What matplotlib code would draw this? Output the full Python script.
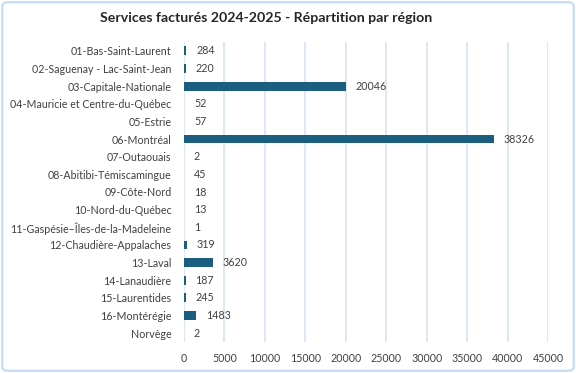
import matplotlib
matplotlib.use("Agg")
import matplotlib.pyplot as plt
from matplotlib.patches import FancyBboxPatch

regions = ["01-Bas-Saint-Laurent", "02-Saguenay - Lac-Saint-Jean", "03-Capitale-Nationale",
           "04-Mauricie et Centre-du-Québec", "05-Estrie", "06-Montréal", "07-Outaouais",
           "08-Abitibi-Témiscamingue", "09-Côte-Nord", "10-Nord-du-Québec",
           "11-Gaspésie–Îles-de-la-Madeleine", "12-Chaudière-Appalaches", "13-Laval",
           "14-Lanaudière", "15-Laurentides", "16-Montérégie", "Norvège"]
values = [284, 220, 20046, 52, 57, 38326, 2, 45, 18, 13, 1, 319, 3620, 187, 245, 1483, 2]
xticks = [0, 5000, 10000, 15000, 20000, 25000, 30000, 35000, 40000, 45000]

plt.rcParams['font.family'] = ['Lato', 'DejaVu Sans']
text_color = '#404040'
bar_color = '#1b5e80'
grid_color = '#d6e4f5'

fig = plt.figure(figsize=(5.76, 3.73), dpi=100)
ax = fig.add_axes([184/576, 31/373, 364/576, 300/373])

y = list(range(len(regions)))
ax.barh(y, values, height=0.5, color=bar_color, zorder=3)
for yi, v in zip(y, values):
    ax.text(v + 1200, yi, str(v), va='center', ha='left', fontsize=7.7, color=text_color)

ax.set_xlim(0, 45000)
ax.set_ylim(len(regions) - 0.5, -0.5)
ax.set_yticks(y)
ax.set_yticklabels(regions, fontsize=7.7, color=text_color)
ax.set_xticks(xticks)
ax.set_xticklabels([str(t) for t in xticks], fontsize=7.7, color=text_color)
ax.tick_params(axis='both', length=0)
ax.tick_params(axis='y', pad=9)
ax.tick_params(axis='x', pad=8)
ax.grid(axis='x', color=grid_color, linewidth=1.2, zorder=0)
for s in ax.spines.values():
    s.set_visible(False)

fig.text(0.462, 0.952, "Services facturés 2024-2025 - Répartition par région",
         ha='center', va='center', fontsize=10.2, fontweight='bold', color='#262626')

border = FancyBboxPatch((0.004, 0.006), 0.992, 0.988, boxstyle="round,pad=0,rounding_size=0.01",
                        transform=fig.transFigure, fill=False, edgecolor='#c6daf0', linewidth=1.5)
fig.patches.append(border)

fig.savefig("out.png", dpi=100)
